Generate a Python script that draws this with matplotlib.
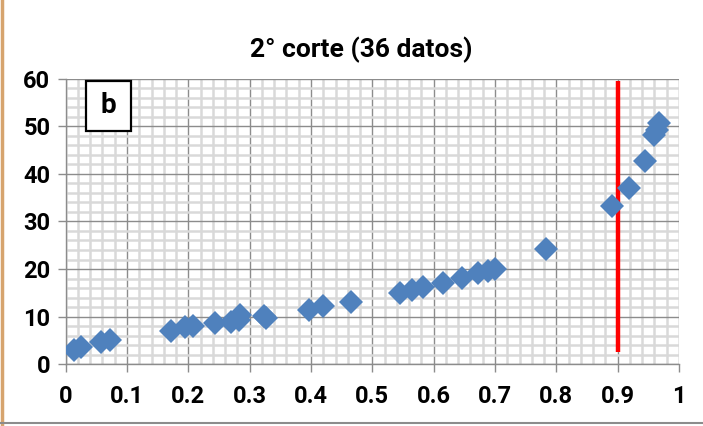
import matplotlib
matplotlib.use("Agg")
import matplotlib.pyplot as plt
from matplotlib.patches import Rectangle
from matplotlib.ticker import MultipleLocator

# Data: cumulative frequency (x) vs. value (y), second cut
x_vals = [0.014, 0.025, 0.057, 0.073, 0.172, 0.195, 0.207, 0.243,
          0.270, 0.282, 0.284, 0.323, 0.326, 0.396, 0.420, 0.466,
          0.545, 0.564, 0.583, 0.615, 0.646, 0.673, 0.689, 0.700,
          0.783, 0.890, 0.919, 0.944, 0.960, 0.964, 0.968]
y_vals = [3.0, 3.6, 4.6, 5.1, 7.0, 7.8, 8.0, 8.6,
          8.9, 9.3, 10.3, 10.1, 9.7, 11.5, 12.2, 13.1,
          14.9, 15.6, 16.3, 17.1, 18.1, 19.1, 19.6, 20.1,
          24.2, 33.2, 37.1, 42.6, 48.1, 49.1, 50.6]

title = "2° corte (36 datos)"
panel_label = "b"
cut_x = 0.9
cut_y = [2.5, 59.5]
x_ticks = [0, 0.1, 0.2, 0.3, 0.4, 0.5, 0.6, 0.7, 0.8, 0.9, 1]
x_tick_labels = ["0", "0.1", "0.2", "0.3", "0.4", "0.5", "0.6", "0.7", "0.8", "0.9", "1"]
y_ticks = [0, 10, 20, 30, 40, 50, 60]

plt.rcParams['font.family'] = ['Roboto', 'DejaVu Sans']

fig = plt.figure(figsize=(7.03, 4.26), dpi=100)
ax = fig.add_axes([65.7 / 703, 1 - 364.3 / 426, (679 - 65.7) / 703, (364.3 - 78.5) / 426])

ax.set_xlim(0, 1)
ax.set_ylim(0, 60)

# Grid: minor every 0.02 / 2, major every 0.1 / 10
ax.xaxis.set_minor_locator(MultipleLocator(0.02))
ax.yaxis.set_minor_locator(MultipleLocator(2))
ax.set_xticks(x_ticks)
ax.set_xticklabels(x_tick_labels)
ax.set_yticks(y_ticks)
ax.grid(which='minor', color='#d9d9d9', linewidth=1.8, zorder=0)
ax.grid(which='major', color='#8c8c8c', linewidth=1.0, zorder=0.5)
ax.set_axisbelow(True)

for side in ['top', 'right']:
    ax.spines[side].set_visible(False)
for side in ['left', 'bottom']:
    ax.spines[side].set_color('#8c8c8c')
    ax.spines[side].set_linewidth(1.0)

ax.tick_params(which='major', direction='out', length=6, width=1.0, color='#8c8c8c',
               labelsize=17)
ax.tick_params(axis='x', pad=9)
ax.tick_params(axis='y', pad=5)
ax.tick_params(which='minor', length=0)
for lbl in ax.get_xticklabels() + ax.get_yticklabels():
    lbl.set_fontweight('bold')

# Cut line
ax.plot([cut_x, cut_x], cut_y, color='#ff0000', linewidth=3.2, zorder=3, solid_capstyle='butt')

# Data points
ax.plot(x_vals, y_vals, linestyle='none', marker='D', markersize=12,
        color='#4f81bd', markeredgewidth=0, zorder=4)

# Panel label box
box_x0, box_x1 = 0.033, 0.106
box_y0, box_y1 = 49.0, 59.5
ax.add_patch(Rectangle((box_x0, box_y0), box_x1 - box_x0, box_y1 - box_y0,
                       facecolor='white', edgecolor='black', linewidth=1.6, zorder=5))
ax.text((box_x0 + box_x1) / 2, (box_y0 + box_y1) / 2, panel_label, fontsize=20,
        fontweight='bold', ha='center', va='center', zorder=6)

fig.text(361.5 / 703, 1 - 50 / 426, title, fontsize=19, fontweight='bold', ha='center', va='center')

# Frame edges of the chart area
fig.add_artist(plt.Line2D([1.5 / 703, 1.5 / 703], [0, 1], color='#d6a46e', linewidth=2.5, transform=fig.transFigure))
fig.add_artist(plt.Line2D([0, 1], [1 - 422.5 / 426, 1 - 422.5 / 426], color='#8c8c8c', linewidth=1.5, transform=fig.transFigure))

fig.savefig("out.png", dpi=100)
